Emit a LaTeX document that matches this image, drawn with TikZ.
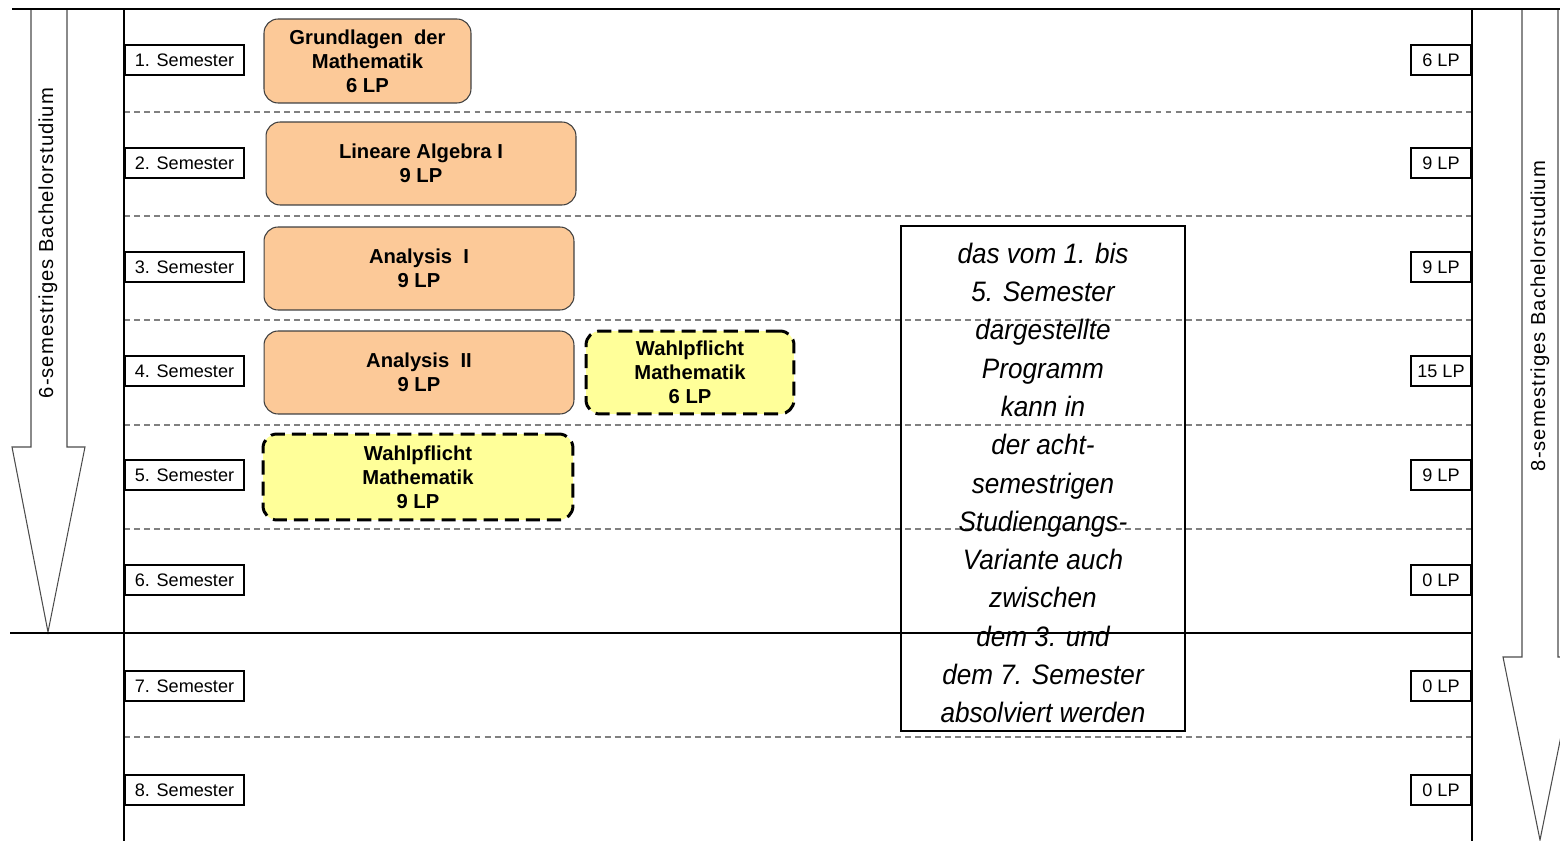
\documentclass[tikz,border=0pt]{standalone}
\usepackage{fontspec}
\setmainfont{Liberation Sans}
\newfontfamily\notefont[FakeStretch=0.93]{Liberation Sans}
\newfontfamily\arrowfont[LetterSpace=5]{Liberation Sans}
\usetikzlibrary{positioning}

\definecolor{modorange}{RGB}{252,201,152}
\definecolor{wpyellow}{RGB}{255,255,153}

\begin{document}
\begin{tikzpicture}[
        x=0.02cm, y=-0.02cm,
        sembox/.style={rectangle, draw, line width=0.8pt, minimum width=2.38cm,
                minimum height=0.6cm, inner sep=0pt, font=\fontsize{10.3}{12}\selectfont},
        lpbox/.style={sembox, minimum width=1.2cm},
        modbox/.style={rectangle, draw=black!75, line width=0.6pt, rounded corners=8pt,
                fill=modorange, align=center, inner sep=0pt,
                font=\fontsize{11.5}{13.6}\selectfont\bfseries},
        wpbox/.style={modbox, draw=black, fill=wpyellow, line width=1.7pt,
                dash pattern=on 8pt off 4pt},
        notebox/.style={rectangle, draw, line width=0.7pt, minimum width=5.68cm,
                minimum height=10.1cm, align=center, inner sep=0pt,
                font=\notefont\itshape\fontsize{16}{21.8}\selectfont},
        bigarrow/.style={draw=black!70, line width=0.6pt, fill=white},
        arrowlab/.style={rotate=90, font=\arrowfont\fontsize{11.5}{13}\selectfont},
        semline/.style={dashed, gray, line width=0.6pt, dash pattern=on 3.4pt off 2.3pt},
        mainline/.style={black, line width=1.1pt}, ]

        \useasboundingbox (0,0) rectangle (1560,841);
        \clip (0,0) rectangle (1560,841);

        % === BLOCK ARROWS ===
        \draw[bigarrow] (31,9) -- (31,447) -- (12,447) -- (48,632) -- (85,447)
            -- (67,447) -- (67,9) -- cycle;
        \node[arrowlab] (six) at (48,243) {6-semestriges Bachelorstudium};
        \draw[bigarrow] (1522,9) -- (1522,657) -- (1503,657) -- (1540,840) -- (1577,657)
            -- (1558,657) -- (1558,9) -- cycle;
        \node[arrowlab] (eight) at (1540,316) {8-semestriges Bachelorstudium};

        % === GRID ===
        \foreach \y in {112,216,320,425,529,737} {
                \draw[semline] (124,\y) -- (1472,\y);
            }
        \draw[mainline] (10,633) -- (1472,633);
        \draw[mainline] (12,9) -- (1560,9);
        \draw[mainline] (124,9) -- (124,841);
        \draw[mainline] (1472,9) -- (1472,841);

        % === SEMESTERS AND CREDITS ===
        \foreach \i/\y/\lp in {1/60/6, 2/163/9, 3/267/9, 4/371/15, 5/475/9, 6/580/0, 7/686/0, 8/790/0} {
                \node[sembox] (sem\i) at (184.5,\y) {\i. Semester};
                \node[lpbox] (lp\i) at (1441,\y) {\lp{} LP};
            }

        % === MODULES ===
        \node[modbox, minimum width=4.14cm, minimum height=1.68cm] (grund) at (367.5,61)
            {Grundlagen\ \ der\\Mathematik\\6 LP};
        \node[modbox, minimum width=6.2cm, minimum height=1.66cm] (linalg) at (421,163.5)
            {Lineare Algebra I\\9 LP};
        \node[modbox, minimum width=6.2cm, minimum height=1.66cm] (anaone) at (419,268.5)
            {Analysis\ \ I\\9 LP};
        \node[modbox, minimum width=6.2cm, minimum height=1.66cm] (anatwo) at (419,372.5)
            {Analysis\ \ II\\9 LP};
        \node[wpbox, minimum width=4.16cm, minimum height=1.66cm] (wpsix) at (690,372.5)
            {Wahlpflicht\\Mathematik\\6 LP};
        \node[wpbox, minimum width=6.2cm, minimum height=1.72cm] (wpnine) at (418,477)
            {Wahlpflicht\\Mathematik\\9 LP};

        % === NOTE ===
        \node[notebox] (note) at (1043,478.5) {};
        \node[align=center, inner sep=0pt, font=\notefont\itshape\fontsize{16}{21.8}\selectfont]
            (notetext) at (1043,483)
            {das vom 1. bis\\5. Semester\\dargestellte\\Programm\\kann in\\der acht-\\
             semestrigen\\Studiengangs-\\Variante auch\\zwischen\\dem 3. und\\
             dem 7. Semester\\absolviert werden};
    \end{tikzpicture}
\end{document}
